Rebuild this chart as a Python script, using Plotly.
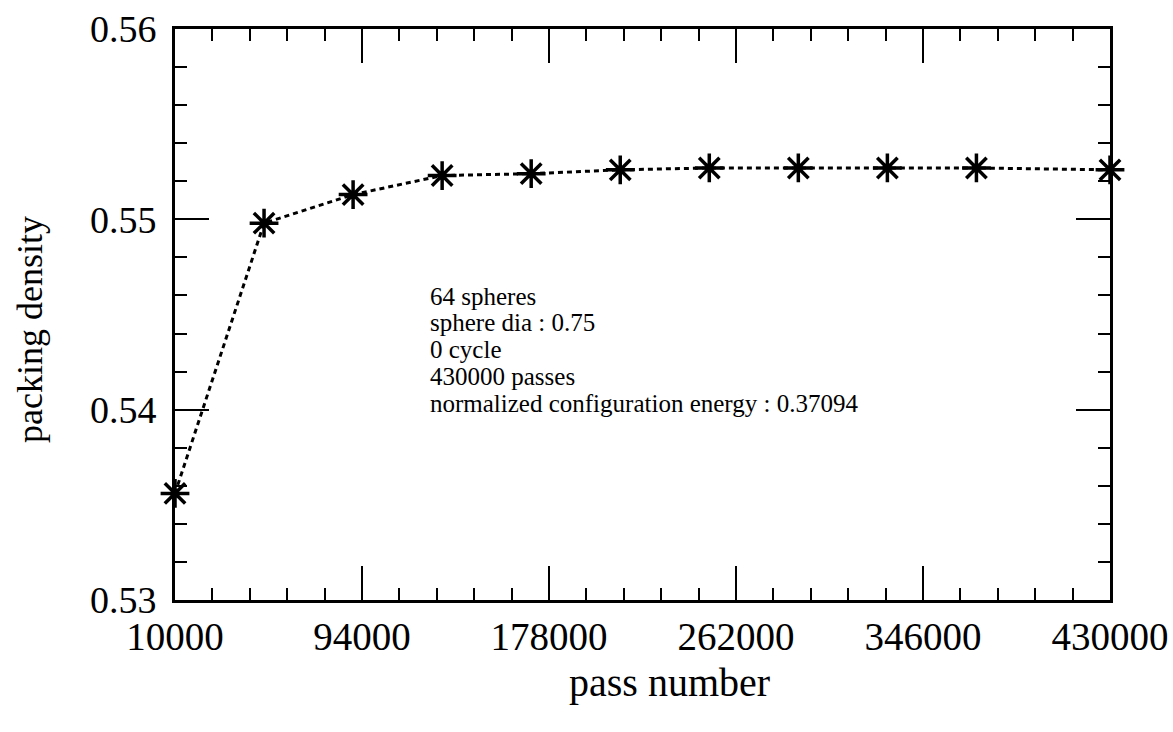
import plotly.graph_objects as go

pass_number = [10000, 50000, 90000, 130000, 170000, 210000, 250000, 290000, 330000, 370000, 430000]
packing_density = [0.5356, 0.5498, 0.5513, 0.5523, 0.5524, 0.5526, 0.5527, 0.5527, 0.5527, 0.5527, 0.5526]

x_ticks = [10000, 94000, 178000, 262000, 346000, 430000]
y_ticks = [0.53, 0.54, 0.55, 0.56]
info_lines = ["64 spheres", "sphere dia : 0.75", "0 cycle", "430000 passes",
              "normalized configuration energy : 0.37094"]

FONT = "Liberation Serif, Times New Roman, serif"

fig = go.Figure()
fig.add_trace(go.Scatter(
    x=pass_number, y=packing_density, mode="lines+markers",
    line=dict(color="black", width=3, dash="5px,4px"),
    marker=dict(symbol="asterisk-open", size=24, color="black",
                line=dict(color="black", width=3.5)),
    cliponaxis=False, showlegend=False,
))

axis_common = dict(
    showline=True, linecolor="black", linewidth=3, mirror="ticks",
    ticks="inside", ticklen=34, tickwidth=2, tickcolor="black",
    showgrid=False, zeroline=False, automargin=False,
)

fig.update_xaxes(
    range=[10000, 430000], tickvals=x_ticks, ticktext=[str(v) for v in x_ticks],
    minor=dict(ticks="inside", ticklen=12, tickwidth=2, tickcolor="black", dtick=16800,
               tick0=10000, showgrid=False),
    tickfont=dict(family=FONT, size=39, color="black"),
    **axis_common,
)
fig.update_yaxes(
    range=[0.53, 0.56], tickvals=y_ticks, ticktext=["0.53", "0.54", "0.55", "0.56"],
    minor=dict(ticks="inside", ticklen=12, tickwidth=2, tickcolor="black", dtick=0.002,
               showgrid=False),
    tickfont=dict(family=FONT, size=38, color="black"),
    ticklabelstandoff=8,
    **axis_common,
)

# axis titles placed as annotations to match the reference positions
fig.add_annotation(
    xref="paper", yref="paper", x=0.529, y=(600 - 682) / 571, xanchor="center", yanchor="middle",
    text="pass number", showarrow=False,
    font=dict(family=FONT, size=40, color="black"),
)
fig.add_annotation(
    xref="paper", yref="paper", x=(30 - 175) / 935, y=(600 - 330) / 571,
    xanchor="center", yanchor="middle",
    text="packing density", showarrow=False, textangle=-90,
    font=dict(family=FONT, size=36, color="black"),
)

top_px = 296
for i, line in enumerate(info_lines):
    ypx = top_px + i * 26.8
    fig.add_annotation(
        xref="paper", yref="paper", x=0.2706, y=(600 - ypx) / 571,
        xanchor="left", yanchor="middle",
        text=line, showarrow=False, align="left",
        font=dict(family=FONT, size=25, color="black"),
    )

fig.update_layout(
    width=1173, height=732,
    margin=dict(l=175, r=63, t=29, b=132),
    paper_bgcolor="white", plot_bgcolor="white",
)

fig.write_html("out.html")
